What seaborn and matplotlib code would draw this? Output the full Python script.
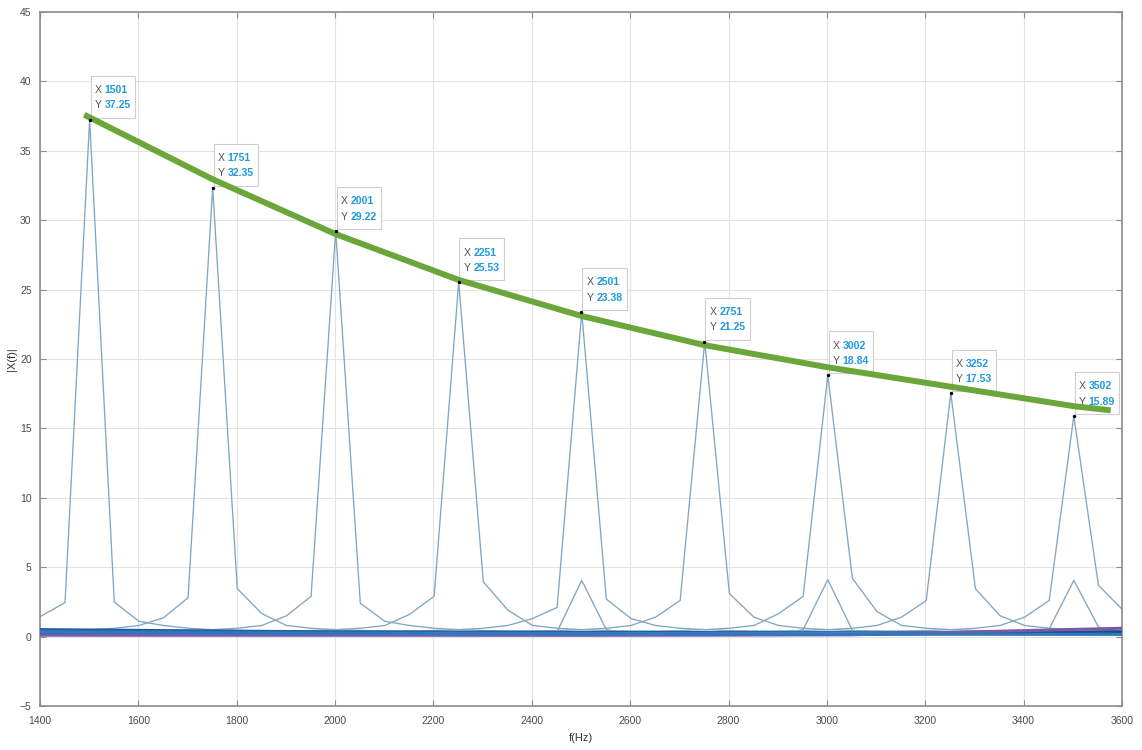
import numpy as np
import pandas as pd
import seaborn as sns
import matplotlib.pyplot as plt
from matplotlib.offsetbox import TextArea, HPacker, VPacker, AnnotationBbox, DrawingArea

# ===== FFT bin grid (Hz) =====
bin_start = 1400.95
bin_width = 50.025
n_bins = 45

# ===== main tones: peak bin and the bins next to it =====
tone_freqs = [1501, 1751, 2001, 2251, 2501, 2751, 3002, 3252, 3502]
tone_peaks = [37.25, 32.35, 29.22, 25.53, 23.38, 21.25, 18.84, 17.53, 15.89]
left1 = [2.45, 2.8, 2.9, 2.9, 2.1, 2.6, 2.9, 2.6, 2.6]
right1 = [2.5, 3.45, 2.4, 3.95, 2.7, 3.1, 4.2, 3.45, 3.7]
left2 = [1.45, 1.35, 1.5, 1.6, 1.3, 1.4, 1.65, 1.4, 1.4]
right2 = [1.1, 1.65, 1.1, 1.9, 1.3, 1.4, 1.8, 1.5, 1.9]
far_tail = [0.8, 0.6, 0.5, 0.44, 0.4, 0.37, 0.35, 0.33, 0.31]
tail_floor = [0.28, 0.3, 0.25, 0.32, 0.22, 0.27, 0.3, 0.24, 0.26]

# ===== small harmonic peaks =====
harm_freqs = [2501, 3002, 3502]
harm_peaks = [4.05, 4.1, 4.05]
harm_left = [0.35, 0.5, 0.55]
harm_right = [0.5, 0.45, 0.7]
harm_floor = [0.15, 0.18, 0.2]

# ===== tails of tones outside the window (the dark band near 0) =====
bg_freqs = [1401, 1951, 2501, 3051, 3601]
bg_lines = {
    "bg1": [0.5, 0.35, 0.3, 0.27, 0.25],
    "bg2": [0.4, 0.28, 0.24, 0.22, 0.2],
    "bg3": [0.25, 0.2, 0.18, 0.2, 0.24],
    "bg4": [0.15, 0.14, 0.13, 0.15, 0.35],
    "bg5": [0.1, 0.1, 0.1, 0.13, 0.6],
    "bg6": [0.32, 0.22, 0.2, 0.18, 0.16],
}

# ===== green envelope =====
env_freqs = [1490, 1751, 2001, 2251, 2501, 2751, 3002, 3252, 3502, 3577]
env_vals = [37.6, 32.95, 29.0, 25.7, 23.1, 21.0, 19.4, 18.0, 16.6, 16.3]

# ===== build long table =====
bins = bin_start + bin_width * np.arange(n_bins)
rows = []
for i, f0 in enumerate(tone_freqs):
    k0 = int(round((f0 - bin_start) / bin_width))
    near = {0: tone_peaks[i], -1: left1[i], 1: right1[i], -2: left2[i], 2: right2[i]}
    for k, f in enumerate(bins):
        d = k - k0
        if d in near:
            v = near[d]
        elif abs(d) - 3 < len(far_tail):
            v = far_tail[abs(d) - 3]
        else:
            v = tail_floor[i]
        rows.append((f, v, f"tone{i}"))
for i, f0 in enumerate(harm_freqs):
    k0 = int(round((f0 - bin_start) / bin_width))
    near = {0: harm_peaks[i], -1: harm_left[i], 1: harm_right[i]}
    for k, f in enumerate(bins):
        rows.append((f, near.get(k - k0, harm_floor[i]), f"harm{i}"))
df = pd.DataFrame(rows, columns=["freq", "mag", "line"])

bg_rows = [(f, v, name) for name, vals in bg_lines.items() for f, v in zip(bg_freqs, vals)]
df_bg = pd.DataFrame(bg_rows, columns=["freq", "mag", "line"])
df_env = pd.DataFrame({"freq": env_freqs, "mag": env_vals})

# ===== style =====
sns.set_theme(style="whitegrid", rc={
    "grid.color": "#e3e3e3",
    "grid.linewidth": 0.8,
    "axes.edgecolor": "#8c8c8c",
    "axes.linewidth": 1.2,
})
plt.rcParams["font.family"] = ["Liberation Sans", "DejaVu Sans"]

fig = plt.figure(figsize=(11.42, 7.5), dpi=100)
ax = fig.add_axes([0.035, 0.0587, 0.9475, 0.9253])

sns.lineplot(data=df, x="freq", y="mag", units="line", estimator=None,
             color="#82a6c0", linewidth=0.95, legend=False, ax=ax, zorder=2)
sns.lineplot(data=df_bg, x="freq", y="mag", hue="line", units="line", estimator=None,
             palette=["#1f5a99", "#2b6cb0", "#4a9ad4", "#1b4f8a", "#7a5aa5", "#2e78c0"],
             linewidth=2.2, legend=False, ax=ax, zorder=3)

# green envelope
sns.lineplot(data=df_env, x="freq", y="mag", color="#6aa63a", linewidth=4.3,
             ax=ax, zorder=6, solid_capstyle="butt")

# data tips
ax.scatter(tone_freqs, tone_peaks, s=6, color="black", zorder=7, linewidths=0)
tp_lab = dict(color="#555555", fontsize=7.6)
tp_val = dict(color="#1f9ae0", fontsize=7.6, fontweight="bold")
for f, a in zip(tone_freqs, tone_peaks):
    row1 = HPacker(children=[TextArea("X", textprops=tp_lab), TextArea(f"{f}", textprops=tp_val)],
                   sep=2.0, pad=0, align="baseline")
    row2 = HPacker(children=[TextArea("Y", textprops=tp_lab), TextArea(f"{a:.2f}", textprops=tp_val)],
                   sep=2.0, pad=0, align="baseline")
    rows_box = VPacker(children=[row1, row2], sep=3.8, pad=0, align="left")
    box = VPacker(children=[DrawingArea(1, 3.6), rows_box, DrawingArea(1, 2.4)],
                  sep=0, pad=0, align="left")
    ab = AnnotationBbox(box, (f, a), xybox=(3.7, 4.3), xycoords="data",
                        boxcoords="offset points", box_alignment=(0, 0), pad=0.3,
                        fontsize=10, frameon=True, zorder=5,
                        bboxprops=dict(edgecolor="#cfcfcf", facecolor="white", lw=0.8))
    ax.add_artist(ab)

# ===== axes =====
ax.set_xlim(1400, 3600)
ax.set_ylim(-5, 45)
ax.set_xticks(range(1400, 3601, 200))
ax.set_yticks(range(-5, 46, 5))
ax.tick_params(axis="both", which="both", direction="in", length=4.5, width=0.8,
               colors="#8c8c8c", labelcolor="#4a4a4a", labelsize=7.5,
               top=True, right=True, bottom=True, left=True)
ax.tick_params(axis="x", pad=7.5)
ax.tick_params(axis="y", pad=6)
ax.set_xlabel("f(Hz)", fontsize=8, color="#333333", labelpad=5)
ax.set_ylabel("|X(f)|", fontsize=8, color="#333333", labelpad=2)
for s in ax.spines.values():
    s.set_visible(True)
ax.grid(True, zorder=0)

fig.savefig("out.png", dpi=100)
